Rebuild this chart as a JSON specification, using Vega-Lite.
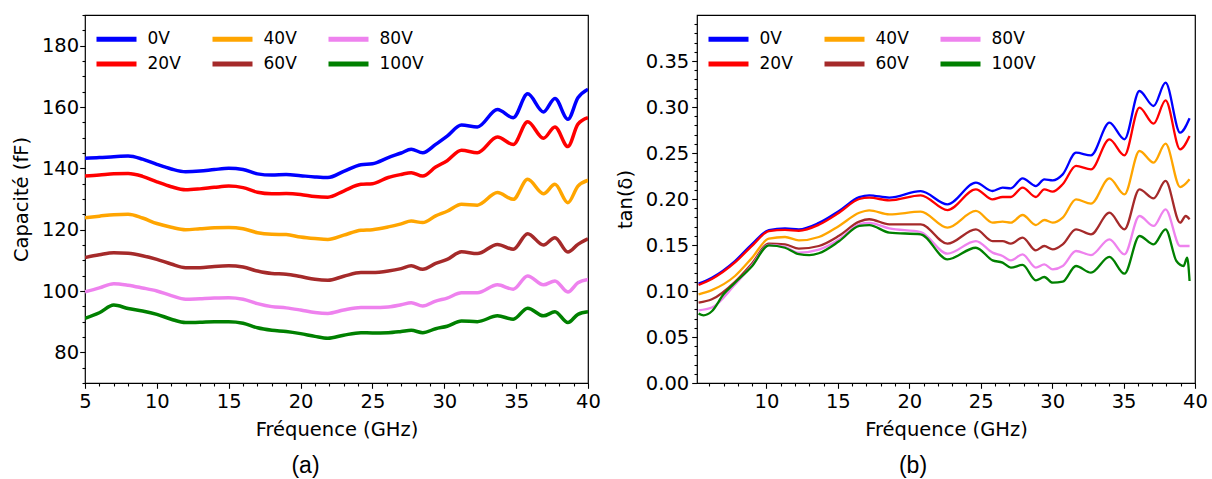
{
"$schema": "https://vega.github.io/schema/vega-lite/v6.json",
"padding": {"left": 10, "top": 4, "right": 5, "bottom": 0},
"bounds": "flush",
"spacing": 109,
"resolve": {"scale": {"color": "independent"}, "legend": {"color": "independent"}},
"config": {
 "view": {"stroke": "black", "strokeWidth": 1.2},
 "font": "DejaVu Sans",
 "axis": {"domain": false, "grid": false, "tickColor": "black", "tickWidth": 1.1, "labelColor": "black", "labelFont": "DejaVu Sans", "labelFontSize": 19.5, "titleFont": "DejaVu Sans", "titleFontSize": 19.5, "titleFontWeight": "normal", "titleColor": "black", "labelFlush": false, "labelOverlap": false},
 "legend": {"orient": "none", "legendX": 19, "legendY": 11.5, "columns": 3, "symbolType": "M-2,0H2", "symbolSize": 400, "symbolStrokeWidth": 5, "labelFontSize": 17, "labelFont": "DejaVu Sans", "labelColor": "black", "labelOffset": 18.5, "rowPadding": 2, "columnPadding": 10, "gridAlign": "all"},
 "title": {"font": "Liberation Sans", "fontSize": 23, "fontWeight": "normal", "color": "black"}
},
"datasets": {
"cap": [
{"f":5,"s":"0V","v":143.3},{"f":6,"s":"0V","v":143.5},{"f":7,"s":"0V","v":143.8},{"f":8,"s":"0V","v":144},{"f":9,"s":"0V","v":143},{"f":10,"s":"0V","v":141.3},{"f":11,"s":"0V","v":139.8},{"f":12,"s":"0V","v":138.9},{"f":13,"s":"0V","v":139.1},{"f":14,"s":"0V","v":139.6},{"f":15,"s":"0V","v":140},{"f":16,"s":"0V","v":139.6},{"f":17,"s":"0V","v":138.2},{"f":18,"s":"0V","v":137.8},{"f":19,"s":"0V","v":138},{"f":20,"s":"0V","v":137.6},{"f":21,"s":"0V","v":137.2},{"f":21.9,"s":"0V","v":137},{"f":23,"s":"0V","v":139},{"f":24.2,"s":"0V","v":141.2},{"f":25,"s":"0V","v":141.5},{"f":26.1,"s":"0V","v":143.5},{"f":27,"s":"0V","v":145},{"f":27.7,"s":"0V","v":146.2},{"f":28.5,"s":"0V","v":145.1},{"f":29.4,"s":"0V","v":147.8},{"f":30.2,"s":"0V","v":150.5},{"f":31.2,"s":"0V","v":154.1},{"f":32.3,"s":"0V","v":153.5},{"f":33.7,"s":"0V","v":159.2},{"f":34.8,"s":"0V","v":156.5},{"f":35.8,"s":"0V","v":164.3},{"f":36.9,"s":"0V","v":158.4},{"f":37.7,"s":"0V","v":162.8},{"f":38.6,"s":"0V","v":156},{"f":39.3,"s":"0V","v":163},{"f":40,"s":"0V","v":165.8},
{"f":5,"s":"20V","v":137.5},{"f":6,"s":"20V","v":137.8},{"f":7,"s":"20V","v":138.2},{"f":8,"s":"20V","v":138.3},{"f":9,"s":"20V","v":137.4},{"f":10,"s":"20V","v":135.6},{"f":11,"s":"20V","v":134},{"f":12,"s":"20V","v":133},{"f":13,"s":"20V","v":133.3},{"f":14,"s":"20V","v":133.8},{"f":15,"s":"20V","v":134.2},{"f":16,"s":"20V","v":133.7},{"f":17,"s":"20V","v":132.2},{"f":18,"s":"20V","v":131.7},{"f":19,"s":"20V","v":131.8},{"f":20,"s":"20V","v":131.5},{"f":21,"s":"20V","v":130.8},{"f":21.9,"s":"20V","v":130.6},{"f":23,"s":"20V","v":132.6},{"f":24.2,"s":"20V","v":134.8},{"f":25,"s":"20V","v":135},{"f":26.1,"s":"20V","v":137},{"f":27,"s":"20V","v":138},{"f":27.7,"s":"20V","v":138.6},{"f":28.5,"s":"20V","v":137.5},{"f":29.4,"s":"20V","v":140.4},{"f":30.2,"s":"20V","v":142.5},{"f":31.2,"s":"20V","v":145.9},{"f":32.3,"s":"20V","v":145.1},{"f":33.7,"s":"20V","v":150.2},{"f":34.8,"s":"20V","v":147.8},{"f":35.8,"s":"20V","v":155.2},{"f":36.9,"s":"20V","v":149.8},{"f":37.7,"s":"20V","v":153.5},{"f":38.6,"s":"20V","v":147.1},{"f":39.3,"s":"20V","v":154.4},{"f":40,"s":"20V","v":156.5},
{"f":5,"s":"40V","v":123.9},{"f":6,"s":"40V","v":124.4},{"f":7,"s":"40V","v":124.9},{"f":8,"s":"40V","v":125},{"f":9,"s":"40V","v":123.8},{"f":10,"s":"40V","v":122},{"f":11,"s":"40V","v":120.8},{"f":12,"s":"40V","v":120},{"f":13,"s":"40V","v":120.3},{"f":14,"s":"40V","v":120.6},{"f":15,"s":"40V","v":120.7},{"f":16,"s":"40V","v":120.3},{"f":17,"s":"40V","v":119},{"f":18,"s":"40V","v":118.5},{"f":19,"s":"40V","v":118.4},{"f":20,"s":"40V","v":117.6},{"f":21,"s":"40V","v":117.1},{"f":21.9,"s":"40V","v":116.8},{"f":23,"s":"40V","v":118.2},{"f":24.2,"s":"40V","v":119.8},{"f":25,"s":"40V","v":120},{"f":26.1,"s":"40V","v":120.9},{"f":27,"s":"40V","v":121.9},{"f":27.7,"s":"40V","v":122.8},{"f":28.5,"s":"40V","v":122.3},{"f":29.4,"s":"40V","v":124.5},{"f":30.2,"s":"40V","v":126},{"f":31.2,"s":"40V","v":128.3},{"f":32.3,"s":"40V","v":128},{"f":33.7,"s":"40V","v":132.1},{"f":34.8,"s":"40V","v":129.9},{"f":35.8,"s":"40V","v":136.4},{"f":36.9,"s":"40V","v":131.7},{"f":37.7,"s":"40V","v":134.8},{"f":38.6,"s":"40V","v":128.8},{"f":39.3,"s":"40V","v":134.2},{"f":40,"s":"40V","v":136.1},
{"f":5,"s":"60V","v":110.9},{"f":6,"s":"60V","v":111.8},{"f":7,"s":"60V","v":112.5},{"f":8,"s":"60V","v":112.3},{"f":9,"s":"60V","v":111.5},{"f":10,"s":"60V","v":110.3},{"f":11,"s":"60V","v":108.8},{"f":12,"s":"60V","v":107.6},{"f":13,"s":"60V","v":107.6},{"f":14,"s":"60V","v":108},{"f":15,"s":"60V","v":108.2},{"f":16,"s":"60V","v":107.8},{"f":17,"s":"60V","v":106.5},{"f":18,"s":"60V","v":105.7},{"f":19,"s":"60V","v":105.5},{"f":20,"s":"60V","v":104.7},{"f":21,"s":"60V","v":103.8},{"f":21.9,"s":"60V","v":103.5},{"f":23,"s":"60V","v":104.8},{"f":24.2,"s":"60V","v":106},{"f":25,"s":"60V","v":106},{"f":26.1,"s":"60V","v":106.5},{"f":27,"s":"60V","v":107.3},{"f":27.7,"s":"60V","v":108.2},{"f":28.5,"s":"60V","v":107.1},{"f":29.4,"s":"60V","v":109},{"f":30.2,"s":"60V","v":110.3},{"f":31.2,"s":"60V","v":112.8},{"f":32.3,"s":"60V","v":112.2},{"f":33.7,"s":"60V","v":115.2},{"f":34.8,"s":"60V","v":113.6},{"f":35.8,"s":"60V","v":118.7},{"f":36.9,"s":"60V","v":115},{"f":37.7,"s":"60V","v":117.4},{"f":38.6,"s":"60V","v":112.7},{"f":39.3,"s":"60V","v":115.2},{"f":40,"s":"60V","v":117},
{"f":5,"s":"80V","v":99.7},{"f":6,"s":"80V","v":101},{"f":7,"s":"80V","v":102.4},{"f":8,"s":"80V","v":101.9},{"f":9,"s":"80V","v":101},{"f":10,"s":"80V","v":100},{"f":11,"s":"80V","v":98.5},{"f":12,"s":"80V","v":97.3},{"f":13,"s":"80V","v":97.5},{"f":14,"s":"80V","v":97.7},{"f":15,"s":"80V","v":97.8},{"f":16,"s":"80V","v":97.3},{"f":17,"s":"80V","v":95.9},{"f":18,"s":"80V","v":94.9},{"f":19,"s":"80V","v":94.5},{"f":20,"s":"80V","v":93.8},{"f":21,"s":"80V","v":93},{"f":21.9,"s":"80V","v":92.7},{"f":23,"s":"80V","v":93.8},{"f":24.2,"s":"80V","v":94.6},{"f":25,"s":"80V","v":94.6},{"f":26.1,"s":"80V","v":94.8},{"f":27,"s":"80V","v":95.5},{"f":27.7,"s":"80V","v":96.2},{"f":28.5,"s":"80V","v":95.1},{"f":29.4,"s":"80V","v":96.7},{"f":30.2,"s":"80V","v":97.7},{"f":31.2,"s":"80V","v":99.4},{"f":32.3,"s":"80V","v":99.4},{"f":33.7,"s":"80V","v":102},{"f":34.8,"s":"80V","v":100.6},{"f":35.8,"s":"80V","v":104.9},{"f":36.9,"s":"80V","v":102},{"f":37.7,"s":"80V","v":103.3},{"f":38.6,"s":"80V","v":99.7},{"f":39.3,"s":"80V","v":102.7},{"f":40,"s":"80V","v":103.8},
{"f":5,"s":"100V","v":91.1},{"f":6,"s":"100V","v":92.9},{"f":7,"s":"100V","v":95.4},{"f":8,"s":"100V","v":94.3},{"f":9,"s":"100V","v":93.5},{"f":10,"s":"100V","v":92.4},{"f":11,"s":"100V","v":90.8},{"f":12,"s":"100V","v":89.7},{"f":13,"s":"100V","v":89.8},{"f":14,"s":"100V","v":90},{"f":15,"s":"100V","v":90},{"f":16,"s":"100V","v":89.5},{"f":17,"s":"100V","v":88},{"f":18,"s":"100V","v":87.2},{"f":19,"s":"100V","v":86.8},{"f":20,"s":"100V","v":86.1},{"f":21,"s":"100V","v":85.2},{"f":21.9,"s":"100V","v":84.6},{"f":23,"s":"100V","v":85.6},{"f":24.2,"s":"100V","v":86.4},{"f":25,"s":"100V","v":86.3},{"f":26.1,"s":"100V","v":86.4},{"f":27,"s":"100V","v":86.8},{"f":27.7,"s":"100V","v":87.2},{"f":28.5,"s":"100V","v":86.4},{"f":29.4,"s":"100V","v":87.7},{"f":30.2,"s":"100V","v":88.5},{"f":31.2,"s":"100V","v":90.2},{"f":32.3,"s":"100V","v":90},{"f":33.7,"s":"100V","v":91.9},{"f":34.8,"s":"100V","v":90.8},{"f":35.8,"s":"100V","v":94.4},{"f":36.9,"s":"100V","v":91.9},{"f":37.7,"s":"100V","v":93.2},{"f":38.6,"s":"100V","v":89.7},{"f":39.3,"s":"100V","v":92.4},{"f":40,"s":"100V","v":93.2}
],
"tan": [
{"f":5.25,"s":"0V","v":0.108},{"f":6.18,"s":"0V","v":0.1145},{"f":7.8,"s":"0V","v":0.1326},{"f":8.99,"s":"0V","v":0.151},{"f":10.17,"s":"0V","v":0.1663},{"f":11.3,"s":"0V","v":0.168},{"f":12.27,"s":"0V","v":0.167},{"f":13.67,"s":"0V","v":0.174},{"f":15.08,"s":"0V","v":0.187},{"f":16.5,"s":"0V","v":0.202},{"f":17.2,"s":"0V","v":0.204},{"f":18.6,"s":"0V","v":0.2015},{"f":20.8,"s":"0V","v":0.2085},{"f":22.67,"s":"0V","v":0.1942},{"f":24.66,"s":"0V","v":0.2177},{"f":25.83,"s":"0V","v":0.2087},{"f":26.53,"s":"0V","v":0.2123},{"f":27.11,"s":"0V","v":0.2116},{"f":27.93,"s":"0V","v":0.2225},{"f":28.86,"s":"0V","v":0.2141},{"f":29.45,"s":"0V","v":0.2214},{"f":30.04,"s":"0V","v":0.2203},{"f":30.74,"s":"0V","v":0.2268},{"f":31.67,"s":"0V","v":0.2503},{"f":32.72,"s":"0V","v":0.2475},{"f":34.01,"s":"0V","v":0.283},{"f":35.06,"s":"0V","v":0.2649},{"f":36.11,"s":"0V","v":0.3174},{"f":37.1,"s":"0V","v":0.3011},{"f":37.94,"s":"0V","v":0.3264},{"f":38.96,"s":"0V","v":0.2721},{"f":39.62,"s":"0V","v":0.2877},
{"f":5.25,"s":"20V","v":0.1065},{"f":6.18,"s":"20V","v":0.113},{"f":7.8,"s":"20V","v":0.131},{"f":8.99,"s":"20V","v":0.149},{"f":10.17,"s":"20V","v":0.165},{"f":11.3,"s":"20V","v":0.1665},{"f":12.27,"s":"20V","v":0.1655},{"f":13.67,"s":"20V","v":0.172},{"f":15.08,"s":"20V","v":0.185},{"f":16.5,"s":"20V","v":0.2},{"f":17.2,"s":"20V","v":0.2014},{"f":18.6,"s":"20V","v":0.1986},{"f":20.8,"s":"20V","v":0.204},{"f":22.67,"s":"20V","v":0.188},{"f":24.66,"s":"20V","v":0.2105},{"f":25.83,"s":"20V","v":0.1996},{"f":26.53,"s":"20V","v":0.2022},{"f":27.11,"s":"20V","v":0.2022},{"f":27.93,"s":"20V","v":0.2123},{"f":28.86,"s":"20V","v":0.2022},{"f":29.45,"s":"20V","v":0.2105},{"f":30.04,"s":"20V","v":0.208},{"f":30.74,"s":"20V","v":0.216},{"f":31.67,"s":"20V","v":0.2359},{"f":32.72,"s":"20V","v":0.2322},{"f":34.01,"s":"20V","v":0.2649},{"f":35.06,"s":"20V","v":0.2475},{"f":36.11,"s":"20V","v":0.2993},{"f":37.1,"s":"20V","v":0.2819},{"f":37.94,"s":"20V","v":0.3072},{"f":38.96,"s":"20V","v":0.254},{"f":39.62,"s":"20V","v":0.2685},
{"f":5.25,"s":"40V","v":0.0964},{"f":6.18,"s":"40V","v":0.101},{"f":7.8,"s":"40V","v":0.1163},{"f":8.99,"s":"40V","v":0.136},{"f":10.17,"s":"40V","v":0.157},{"f":11.3,"s":"40V","v":0.1587},{"f":12.27,"s":"40V","v":0.155},{"f":13.67,"s":"40V","v":0.1587},{"f":15.08,"s":"40V","v":0.1707},{"f":16.5,"s":"40V","v":0.185},{"f":17.2,"s":"40V","v":0.1877},{"f":18.6,"s":"40V","v":0.1833},{"f":20.8,"s":"40V","v":0.1862},{"f":22.67,"s":"40V","v":0.1688},{"f":24.66,"s":"40V","v":0.187},{"f":25.83,"s":"40V","v":0.1743},{"f":26.53,"s":"40V","v":0.1754},{"f":27.11,"s":"40V","v":0.1743},{"f":27.93,"s":"40V","v":0.1826},{"f":28.86,"s":"40V","v":0.1717},{"f":29.45,"s":"40V","v":0.1772},{"f":30.04,"s":"40V","v":0.1743},{"f":30.74,"s":"40V","v":0.1797},{"f":31.67,"s":"40V","v":0.1996},{"f":32.72,"s":"40V","v":0.1949},{"f":34.01,"s":"40V","v":0.2225},{"f":35.06,"s":"40V","v":0.2051},{"f":36.11,"s":"40V","v":0.2522},{"f":37.1,"s":"40V","v":0.2395},{"f":37.94,"s":"40V","v":0.2601},{"f":38.96,"s":"40V","v":0.213},{"f":39.62,"s":"40V","v":0.2214},
{"f":5.25,"s":"60V","v":0.0873},{"f":6.18,"s":"60V","v":0.091},{"f":7.8,"s":"60V","v":0.11},{"f":8.99,"s":"60V","v":0.13},{"f":10.17,"s":"60V","v":0.1514},{"f":11.3,"s":"60V","v":0.1507},{"f":12.27,"s":"60V","v":0.146},{"f":13.67,"s":"60V","v":0.1489},{"f":15.08,"s":"60V","v":0.16},{"f":16.5,"s":"60V","v":0.1754},{"f":17.2,"s":"60V","v":0.178},{"f":18.6,"s":"60V","v":0.1725},{"f":20.8,"s":"60V","v":0.1725},{"f":22.67,"s":"60V","v":0.1514},{"f":24.66,"s":"60V","v":0.167},{"f":25.83,"s":"60V","v":0.1543},{"f":26.53,"s":"60V","v":0.1543},{"f":27.11,"s":"60V","v":0.1514},{"f":27.93,"s":"60V","v":0.158},{"f":28.86,"s":"60V","v":0.1442},{"f":29.45,"s":"60V","v":0.1489},{"f":30.04,"s":"60V","v":0.1453},{"f":30.74,"s":"60V","v":0.1507},{"f":31.67,"s":"60V","v":0.167},{"f":32.72,"s":"60V","v":0.1616},{"f":34.01,"s":"60V","v":0.1851},{"f":35.06,"s":"60V","v":0.167},{"f":36.11,"s":"60V","v":0.2105},{"f":37.1,"s":"60V","v":0.2007},{"f":37.94,"s":"60V","v":0.2196},{"f":38.96,"s":"60V","v":0.1743},{"f":39.35,"s":"60V","v":0.1815},{"f":39.62,"s":"60V","v":0.1779},
{"f":5.25,"s":"80V","v":0.079},{"f":6.18,"s":"80V","v":0.082},{"f":7.8,"s":"80V","v":0.107},{"f":8.99,"s":"80V","v":0.128},{"f":10.17,"s":"80V","v":0.15},{"f":11.3,"s":"80V","v":0.148},{"f":12.27,"s":"80V","v":0.1417},{"f":13.67,"s":"80V","v":0.145},{"f":15.08,"s":"80V","v":0.156},{"f":16.5,"s":"80V","v":0.1725},{"f":17.2,"s":"80V","v":0.174},{"f":18.6,"s":"80V","v":0.168},{"f":20.8,"s":"80V","v":0.164},{"f":22.67,"s":"80V","v":0.1406},{"f":24.66,"s":"80V","v":0.1543},{"f":25.83,"s":"80V","v":0.1417},{"f":26.53,"s":"80V","v":0.138},{"f":27.11,"s":"80V","v":0.1333},{"f":27.93,"s":"80V","v":0.1399},{"f":28.86,"s":"80V","v":0.1254},{"f":29.45,"s":"80V","v":0.129},{"f":30.04,"s":"80V","v":0.1236},{"f":30.74,"s":"80V","v":0.1272},{"f":31.67,"s":"80V","v":0.1435},{"f":32.72,"s":"80V","v":0.1391},{"f":34.01,"s":"80V","v":0.1562},{"f":35.06,"s":"80V","v":0.1399},{"f":36.11,"s":"80V","v":0.1815},{"f":37.1,"s":"80V","v":0.1707},{"f":37.94,"s":"80V","v":0.1888},{"f":38.96,"s":"80V","v":0.1489},{"f":39.62,"s":"80V","v":0.1489},
{"f":5.25,"s":"100V","v":0.0754},{"f":5.6,"s":"100V","v":0.0736},{"f":6.18,"s":"100V","v":0.078},{"f":7,"s":"100V","v":0.0964},{"f":7.8,"s":"100V","v":0.109},{"f":8.99,"s":"100V","v":0.127},{"f":10.17,"s":"100V","v":0.1497},{"f":11.3,"s":"100V","v":0.147},{"f":12.27,"s":"100V","v":0.14},{"f":13,"s":"100V","v":0.139},{"f":13.67,"s":"100V","v":0.141},{"f":15.08,"s":"100V","v":0.154},{"f":16.5,"s":"100V","v":0.1707},{"f":17.2,"s":"100V","v":0.1717},{"f":18.6,"s":"100V","v":0.1634},{"f":20.8,"s":"100V","v":0.1616},{"f":22.67,"s":"100V","v":0.1344},{"f":24.66,"s":"100V","v":0.147},{"f":25.83,"s":"100V","v":0.1333},{"f":26.53,"s":"100V","v":0.1308},{"f":27.11,"s":"100V","v":0.1254},{"f":27.93,"s":"100V","v":0.1283},{"f":28.86,"s":"100V","v":0.1116},{"f":29.45,"s":"100V","v":0.1152},{"f":30.04,"s":"100V","v":0.109},{"f":30.74,"s":"100V","v":0.1101},{"f":31.67,"s":"100V","v":0.1272},{"f":32.72,"s":"100V","v":0.1199},{"f":34.01,"s":"100V","v":0.137},{"f":35.06,"s":"100V","v":0.1188},{"f":36.11,"s":"100V","v":0.1598},{"f":37.1,"s":"100V","v":0.1507},{"f":37.94,"s":"100V","v":0.167},{"f":38.7,"s":"100V","v":0.1326},{"f":39.2,"s":"100V","v":0.1272},{"f":39.45,"s":"100V","v":0.1362},{"f":39.62,"s":"100V","v":0.1109}
]
},
"hconcat": [
{
 "width": 503, "height": 368,
 "title": {"text": "(a)", "orient": "bottom", "dx": -31, "offset": 16},
 "data": {"name": "cap"},
 "mark": {"type": "line", "strokeWidth": 3.5, "interpolate": "monotone", "clip": true},
 "encoding": {
  "x": {"field": "f", "type": "quantitative", "scale": {"domain": [5, 40], "nice": false, "zero": false},
   "axis": {"title": "Fréquence (GHz)", "values": [5,6,7,8,9,10,11,12,13,14,15,16,17,18,19,20,21,22,23,24,25,26,27,28,29,30,31,32,33,34,35,36,37,38,39,40],
    "labelExpr": "datum.value % 5 === 0 ? datum.label : ''",
    "tickSize": {"condition": {"test": "datum.value % 5 === 0", "value": 5.3}, "value": 3},
    "labelPadding": 4, "titlePadding": 10}},
  "y": {"field": "v", "type": "quantitative", "scale": {"domain": [70, 190], "nice": false, "zero": false},
   "axis": {"title": "Capacité (fF)", "values": [70,75,80,85,90,95,100,105,110,115,120,125,130,135,140,145,150,155,160,165,170,175,180,185,190],
    "labelExpr": "(datum.value % 20 === 0) ? datum.label : ''",
    "tickSize": {"condition": {"test": "datum.value % 20 === 0", "value": 5.3}, "value": 3},
    "labelPadding": 1, "titlePadding": 10}},
  "color": {"field": "s", "type": "nominal",
   "scale": {"domain": ["0V","20V","40V","60V","80V","100V"], "range": ["#0000ff","#ff0000","#ffa500","#a52a2a","#ee82ee","#008000"]},
   "legend": {"title": null, "encode": {"symbols": {"update": {"stroke": {"signal": "datum.value === '40V' ? '#ff7f0e' : datum.value === '80V' ? '#e377c2' : datum.value === '0V' ? '#0000ff' : datum.value === '20V' ? '#ff0000' : datum.value === '60V' ? '#a52a2a' : '#008000'"}}}}}}
 }
},
{
 "width": 498, "height": 368,
 "title": {"text": "(b)", "orient": "bottom", "dx": -33, "offset": 16},
 "data": {"name": "tan"},
 "mark": {"type": "line", "strokeWidth": 2.3, "interpolate": "monotone", "clip": true},
 "encoding": {
  "x": {"field": "f", "type": "quantitative", "scale": {"domain": [5.14, 40], "nice": false, "zero": false},
   "axis": {"title": "Fréquence (GHz)", "values": [6,7,8,9,10,11,12,13,14,15,16,17,18,19,20,21,22,23,24,25,26,27,28,29,30,31,32,33,34,35,36,37,38,39,40],
    "labelExpr": "datum.value % 5 === 0 ? datum.label : ''",
    "tickSize": {"condition": {"test": "datum.value % 5 === 0", "value": 5.3}, "value": 3},
    "labelPadding": 4, "titlePadding": 10}},
  "y": {"field": "v", "type": "quantitative", "scale": {"domain": [0, 0.4], "nice": false, "zero": false},
   "axis": {"title": "tan(δ)", "format": ".2f", "values": [0,0.01,0.02,0.03,0.04,0.05,0.06,0.07,0.08,0.09,0.1,0.11,0.12,0.13,0.14,0.15,0.16,0.17,0.18,0.19,0.2,0.21,0.22,0.23,0.24,0.25,0.26,0.27,0.28,0.29,0.3,0.31,0.32,0.33,0.34,0.35,0.36,0.37,0.38,0.39],
    "labelExpr": "abs(datum.value*20 - round(datum.value*20)) < 0.000001 ? datum.label : ''",
    "tickSize": {"condition": {"test": "abs(datum.value*20 - round(datum.value*20)) < 0.000001", "value": 5.3}, "value": 3},
    "labelPadding": 3, "titlePadding": 10}},
  "color": {"field": "s", "type": "nominal",
   "scale": {"domain": ["0V","20V","40V","60V","80V","100V"], "range": ["#0000ff","#ff0000","#ffa500","#a52a2a","#ee82ee","#008000"]},
   "legend": {"title": null, "encode": {"symbols": {"update": {"stroke": {"signal": "datum.value === '40V' ? '#ff7f0e' : datum.value === '80V' ? '#e377c2' : datum.value === '0V' ? '#0000ff' : datum.value === '20V' ? '#ff0000' : datum.value === '60V' ? '#a52a2a' : '#008000'"}}}}}}
 }
}
]
}
